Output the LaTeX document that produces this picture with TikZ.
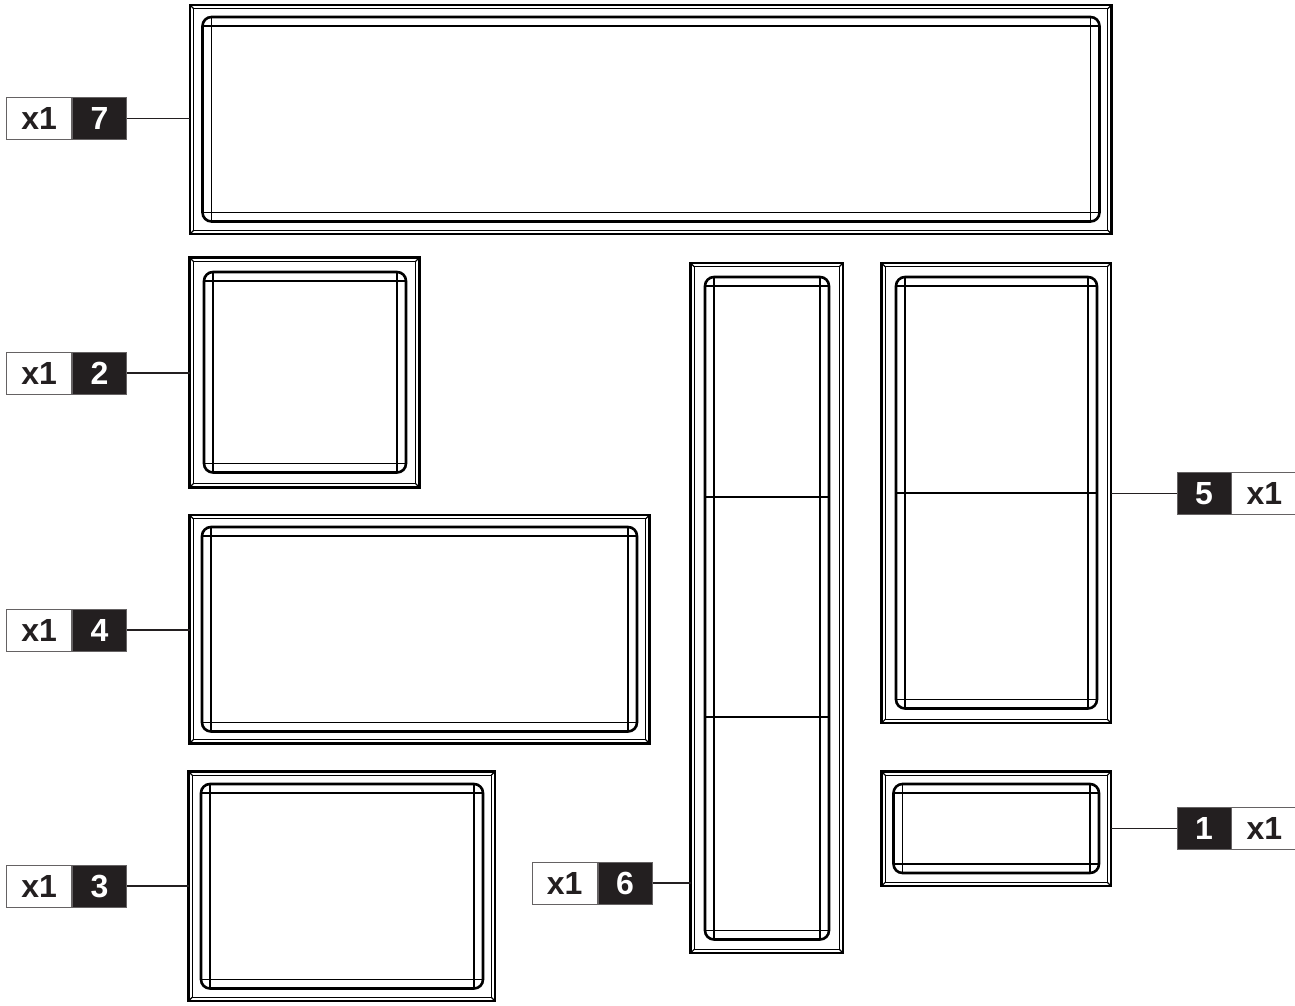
\documentclass[tikz,border=0pt]{standalone}
\usepackage{fontspec}
\setmainfont{Liberation Sans}
\usetikzlibrary{calc}
\definecolor{ink}{HTML}{231F20}
\tikzset{
  frameout/.style={line width=2.4pt, line join=miter},
  framein/.style={line width=1.1pt},
  rimline/.style={line width=2.6pt, rounded corners=9pt},
  hairline/.style={line width=1.1pt},
  divider/.style={line width=2.6pt},
  conn/.style={line width=1.8pt, draw=ink},
  lbl/.style={inner sep=0pt, minimum height=42pt, draw=ink!70, line width=0.9pt,
    font=\fontsize{32}{32}\selectfont\bfseries},
  qtybox/.style={lbl, fill=white, text=ink, minimum width=65pt},
  numbox/.style={lbl, fill=ink, text=white, minimum width=54pt},
  traybox/.style={inner sep=0pt, outer sep=0pt}
}
% #1 name, #2 x1, #3 y1, #4 x2, #5 y2 (outer), #6 rx1, #7 ry1, #8 rx2, #9 ry2 (rounded rim)
\newcommand{\mytray}[9]{%
  \pgfmathsetmacro\trw{#4-#2}\pgfmathsetmacro\trh{#5-#3}%
  \node[traybox, anchor=north west, minimum width=\trw pt, minimum height=\trh pt] (#1) at (#2,#3) {};
  \draw[frameout] (#2,#3) rectangle (#4,#5);
  \draw[framein] (#2+3.8,#3+3.8) rectangle (#4-3.8,#5-3.8);
  \draw[framein] (#2,#3) -- (#2+3.8,#3+3.8) (#4,#3) -- (#4-3.8,#3+3.8)
                 (#2,#5) -- (#2+3.8,#5-3.8) (#4,#5) -- (#4-3.8,#5-3.8);
  \begin{scope}
    \clip[rounded corners=9pt] (#6,#7) rectangle (#8,#9);
    \draw[hairline] (#6,#7+9) -- (#8,#7+9) (#6,#9-9) -- (#8,#9-9)
                    (#6+9,#7) -- (#6+9,#9) (#8-9,#7) -- (#8-9,#9);
  \end{scope}
  \draw[rimline] (#6,#7) rectangle (#8,#9);
}
\begin{document}
\begin{tikzpicture}[x=1pt,y=-1pt]
\useasboundingbox (0,0) rectangle (1295,1005);

\mytray{t7}{190}{5}{1111.5}{234}{202.5}{17}{1099.5}{221.5}
\mytray{t2}{189.5}{257.5}{419.5}{487.5}{204}{272}{406}{472.5}
\mytray{t4}{189.5}{515}{649.5}{743.5}{202}{527}{637}{731.5}
\mytray{t3}{188.5}{771.5}{495}{1001}{201}{784}{483}{988.5}
\mytray{t6}{690.5}{263}{843}{953}{705}{277}{829}{939.5}
\mytray{t5}{881.5}{263}{1111}{723}{896}{277}{1097}{708.5}
\mytray{t1}{881.5}{771.5}{1111}{886}{893.5}{784}{1099}{873}

\draw[divider] (705,497) -- (829,497);
\draw[divider] (705,717) -- (829,717);
\draw[divider] (896,493) -- (1097,493);

% labels left
\node[numbox, anchor=east] (n7) at (127,118.5) {7};
\node[qtybox, anchor=east] (q7) at (n7.west) {x1};
\node[numbox, anchor=east] (n2) at (127,373) {2};
\node[qtybox, anchor=east] (q2) at (n2.west) {x1};
\node[numbox, anchor=east] (n4) at (127,630) {4};
\node[qtybox, anchor=east] (q4) at (n4.west) {x1};
\node[numbox, anchor=east] (n3) at (127,886) {3};
\node[qtybox, anchor=east] (q3) at (n3.west) {x1};
\node[numbox, anchor=east] (n6) at (652.5,883) {6};
\node[qtybox, anchor=east] (q6) at (n6.west) {x1};
% labels right
\node[numbox, anchor=west] (n5) at (1176.5,493.5) {5};
\node[qtybox, anchor=west] (q5) at (n5.east) {x1};
\node[numbox, anchor=west] (n1) at (1176.5,828.5) {1};
\node[qtybox, anchor=west] (q1) at (n1.east) {x1};

% connectors
\draw[conn] (n7.east) -- (n7.east -| t7.west);
\draw[conn] (n2.east) -- (n2.east -| t2.west);
\draw[conn] (n4.east) -- (n4.east -| t4.west);
\draw[conn] (n3.east) -- (n3.east -| t3.west);
\draw[conn] (n6.east) -- (n6.east -| t6.west);
\draw[conn] (n5.west) -- (n5.west -| t5.east);
\draw[conn] (n1.west) -- (n1.west -| t1.east);
\end{tikzpicture}
\end{document}
